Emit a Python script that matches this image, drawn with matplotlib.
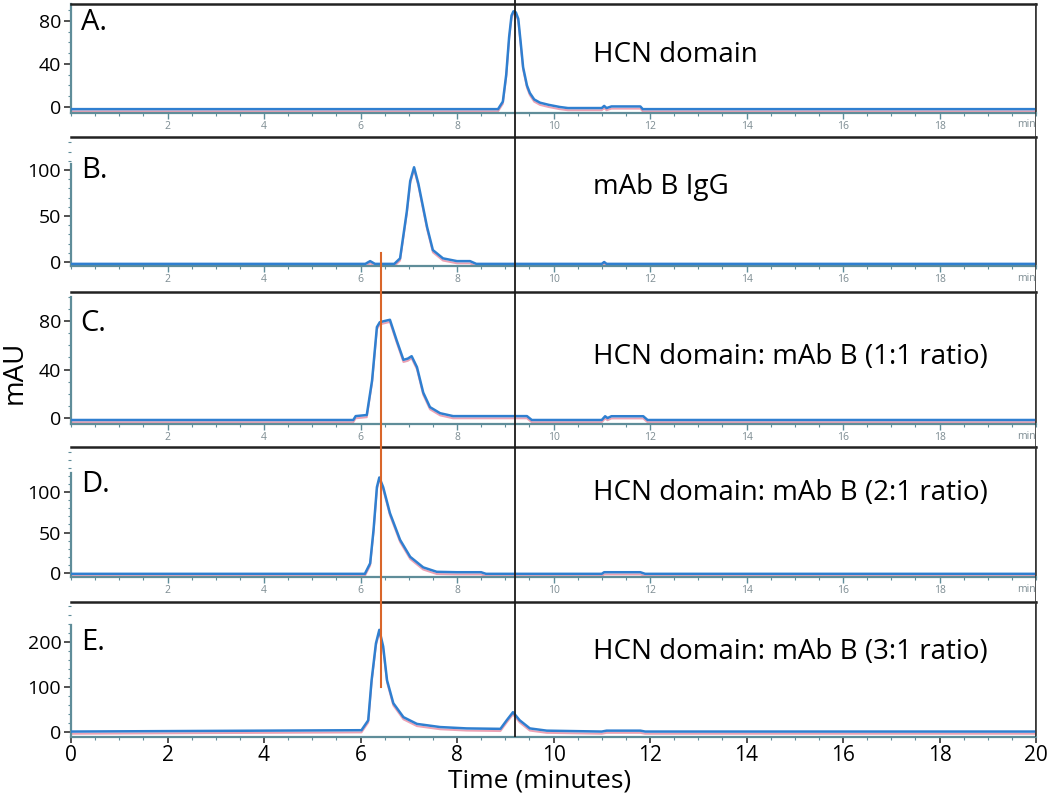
import numpy as np
import matplotlib
matplotlib.use("Agg")
import matplotlib.pyplot as plt
import matplotlib.transforms as mtrans
from matplotlib.ticker import MultipleLocator

plt.rcParams['font.family'] = ['Open Sans', 'DejaVu Sans']

# chromatogram traces (time in minutes, signal in mAU)
t_a = [0, 8.85, 8.95, 9.02, 9.08, 9.13, 9.17, 9.22, 9.27, 9.32, 9.37, 9.45, 9.51, 9.6, 9.72,
       9.9, 10.13, 10.3, 11.0, 11.05, 11.1, 11.2, 11.8, 11.85, 20]
v_a = [-2, -2, 5, 30, 65, 85, 89, 88, 82, 60, 37, 20, 13, 7, 4,
       2, 0, -1, -1, 1, -1, 0.5, 0.5, -2, -2]

t_b = [0, 6.1, 6.2, 6.3, 6.7, 6.82, 6.96, 7.03, 7.11, 7.2, 7.38, 7.5, 7.71, 8.0, 8.27, 8.4,
       11.0, 11.05, 11.1, 20]
v_b = [-2, -2, 1, -2, -2, 4, 55, 88, 103, 85, 38, 13, 4, 1, 1, -2,
       -2, 0, -2, -2]

t_c = [0, 5.85, 5.9, 6.13, 6.24, 6.34, 6.4, 6.5, 6.61, 6.75, 6.89, 6.98, 7.06, 7.17, 7.3,
       7.44, 7.65, 7.92, 9.45, 9.55, 11.0, 11.07, 11.12, 11.2, 11.86, 11.95, 20]
v_c = [-1.6, -1.6, 1.6, 2.5, 31, 75, 79, 80, 81, 64, 48, 49, 51, 42, 21,
       9, 4, 1.6, 1.6, -1.6, -1.6, 1.5, 0, 1.5, 1.5, -1.6, -1.6]

t_d = [0, 6.09, 6.2, 6.27, 6.34, 6.39, 6.47, 6.61, 6.82, 7.03, 7.3, 7.58, 7.99, 8.5, 8.6,
       11.0, 11.05, 11.8, 11.9, 20]
v_d = [-1, -1, 12, 53, 106, 118, 106, 74, 41, 20, 7, 1.5, 1, 1, -1,
       -1, 1, 1, -1, -1]

t_e = [0, 6.02, 6.16, 6.23, 6.32, 6.39, 6.47, 6.55, 6.68, 6.89, 7.17, 7.65, 8.2, 8.9, 9.03,
       9.16, 9.3, 9.51, 9.86, 11.0, 11.1, 11.8, 11.9, 20]
v_e = [1, 4, 26, 115, 197, 227, 190, 115, 64, 33, 18, 11, 8, 7, 26,
       44, 26, 8, 3, 1, 3, 3, 1, 1]

times = [t_a, t_b, t_c, t_d, t_e]
signals = [v_a, v_b, v_c, v_d, v_e]
letters = ['A.', 'B.', 'C.', 'D.', 'E.']
notes = ['HCN domain', 'mAb B IgG', 'HCN domain: mAb B (1:1 ratio)',
         'HCN domain: mAb B (2:1 ratio)', 'HCN domain: mAb B (3:1 ratio)']
ytick_steps = [40, 50, 40, 50, 100]
ytick_max = [80, 100, 80, 100, 200]
minor_steps = [10, 10, 10, 10, 20]

# vertical reference lines (minutes)
hcn_peak_t = 9.2
complex_peak_t = 6.42

W, H = 1050, 794
fig = plt.figure(figsize=(W / 100, H / 100), dpi=100)

# panel layout in pixels: (top, bottom), ylim, left-spine top, letter height
x0, x1 = 71, 1036
rows = [(4, 113), (137, 266), (292, 424), (447, 577), (602, 737)]
ylims = [(-5.6, 95.8), (-4.3, 135.9), (-4.9, 103.9), (-4.9, 155.6), (-11.1, 288.9)]
spine_top = [95.8, 107, 100, 123, 238]
letter_y = [79, 100, 78, 109, 200]

spine_col = '#5f8d99'
blue = '#2f7fd0'
pink = '#eca2b4'

axes = []
for i in range(5):
    top, bot = rows[i]
    ax = fig.add_axes([x0 / W, 1 - bot / H, (x1 - x0) / W, (bot - top) / H])
    axes.append(ax)
    ax.set_xlim(0, 20)
    ax.set_ylim(*ylims[i])
    off = mtrans.offset_copy(ax.transData, fig=fig, x=0, y=-1.6, units='points')
    ax.plot(times[i], signals[i], color=pink, lw=1.4, transform=off, zorder=2)
    ax.plot(times[i], signals[i], color=blue, lw=1.8, zorder=3)

    ax.spines['top'].set_color('#222222')
    ax.spines['top'].set_linewidth(1.8)
    ax.spines['right'].set_color('#333333')
    ax.spines['right'].set_linewidth(1.2)
    ax.spines['left'].set_color(spine_col)
    ax.spines['left'].set_linewidth(1.6)
    ax.spines['left'].set_bounds(ylims[i][0], spine_top[i])
    ax.spines['bottom'].set_color(spine_col)
    ax.spines['bottom'].set_linewidth(1.6)

    ax.set_yticks(np.arange(0, ytick_max[i] + 1, ytick_steps[i]))
    ax.yaxis.set_minor_locator(MultipleLocator(minor_steps[i]))
    ax.tick_params(axis='y', which='major', length=5, width=1.2, color='#333333',
                   labelsize=14, pad=2)
    ax.tick_params(axis='y', which='minor', length=2.5, width=0.8, color=spine_col)

    ax.xaxis.set_minor_locator(MultipleLocator(0.5))
    if i < 4:
        ax.set_xticks(np.arange(2, 19, 2))
        ax.set_xticklabels([str(v) for v in range(2, 19, 2)])
        ax.tick_params(axis='x', which='major', length=4, width=1, color=spine_col,
                       labelsize=7.5, labelcolor='#7d8c92', pad=2)
        ax.tick_params(axis='x', which='minor', length=2, width=0.8, color=spine_col)
        ax.text(1.0, -0.055, 'min', transform=ax.transAxes, ha='right', va='top',
                fontsize=7.5, color='#7d8c92')
    else:
        ax.set_xticks(np.arange(0, 21, 2))
        ax.tick_params(axis='x', which='major', length=4, width=1.2, color='#333333',
                       labelsize=15, pad=2)
        ax.tick_params(axis='x', which='minor', length=2, width=0.8, color=spine_col)

    ax.text(0.2, letter_y[i], letters[i], ha='left', va='center', fontsize=21)

# annotation positions (figure pixels)
note_y = [55, 187, 357, 493, 652]
for i in range(5):
    fig.text(593 / W, 1 - note_y[i] / H, notes[i], ha='left', va='center', fontsize=20)

fig.text(15 / W, 1 - 372 / H, 'mAU', rotation=90, ha='center', va='center', fontsize=20)
fig.text(540 / W, 0.5 / H, 'Time (minutes)', ha='center', va='bottom', fontsize=19)

# overlay for vertical lines crossing the panels
ov = fig.add_axes([x0 / W, 1 - 737 / H, (x1 - x0) / W, 737 / H])
ov.set_xlim(0, 20)
ov.set_ylim(0, 1)
ov.axis('off')
ov.axvline(hcn_peak_t, 0, 1, color='#1a1a1a', lw=1.3)
ov.axvline(complex_peak_t, 50 / 737, 484 / 737, color='#d9662a', lw=1.5)
ov.axvline(20, 0, 733 / 737, color='#333333', lw=1.2)

fig.savefig('out.png', dpi=100)
